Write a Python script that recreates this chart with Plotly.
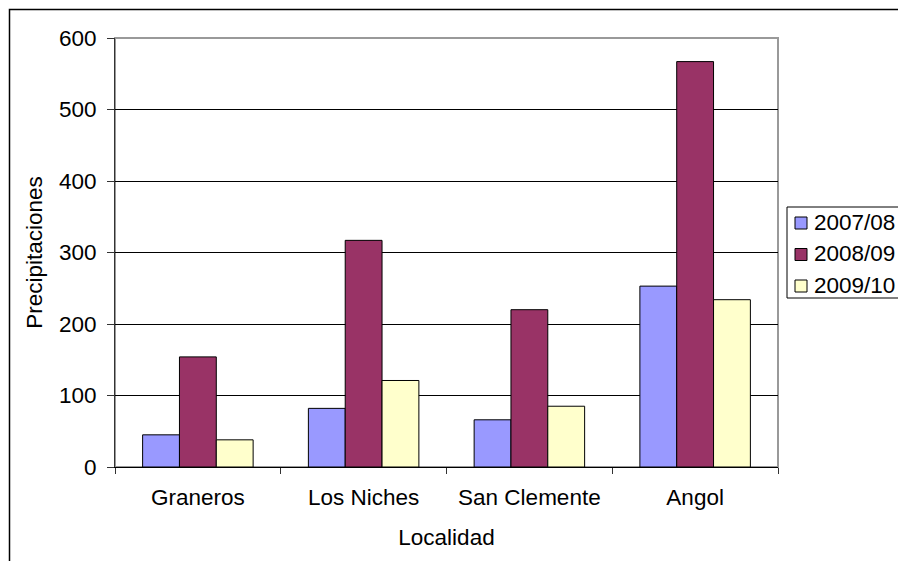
import plotly.graph_objects as go

# Precipitation by locality and season
localidades = ["Graneros", "Los Niches", "San Clemente", "Angol"]
temporadas = ["2007/08", "2008/09", "2009/10"]
p_2007_08 = [45, 82, 66, 253]
p_2008_09 = [154, 317, 220, 567]
p_2009_10 = [38, 121, 85, 234]
colores = ["#9999FF", "#993366", "#FFFFCC"]
y_ticks = [0, 100, 200, 300, 400, 500, 600]

W, H = 898, 561
L, R, T, B = 115, 120, 38, 94
pw, ph = W - L - R, H - T - B

fig = go.Figure()
for name, vals, col in zip(temporadas, [p_2007_08, p_2008_09, p_2009_10], colores):
    fig.add_trace(go.Bar(
        x=localidades, y=vals, name=name, showlegend=False,
        marker=dict(color=col, line=dict(color="#000000", width=1)),
    ))

font = "Liberation Sans, Arial, sans-serif"
fs = 22.5


def px_x(x):
    return (x - L) / pw


def px_y(y):
    return (H - B - y) / ph


shapes = [
    # plot area border
    dict(type="rect", xref="paper", yref="paper", x0=0, x1=1, y0=0, y1=1,
         line=dict(color="#999999", width=2), layer="below"),
    # chart area border
    dict(type="rect", xref="paper", yref="paper",
         x0=px_x(9.5), x1=px_x(905), y0=px_y(570), y1=px_y(9.5),
         line=dict(color="#000000", width=1.5), layer="below"),
    # legend box
    dict(type="rect", xref="paper", yref="paper",
         x0=px_x(787), x1=px_x(905), y0=px_y(298), y1=px_y(207),
         line=dict(color="#000000", width=1), fillcolor="white", layer="above"),
]
annotations = []

# legend entries: swatch + label
row_h = 31.5
for i, (name, col) in enumerate(zip(temporadas, colores)):
    cy = 223 + i * row_h
    shapes.append(dict(
        type="rect", xref="paper", yref="paper",
        x0=px_x(795), x1=px_x(807), y0=px_y(cy + 6), y1=px_y(cy - 6),
        fillcolor=col, line=dict(color="#000000", width=1), layer="above",
    ))
    annotations.append(dict(
        xref="paper", yref="paper", x=px_x(812), y=px_y(cy - 1),
        xanchor="left", yanchor="middle", text=name, showarrow=False,
        font=dict(family=font, size=fs, color="#000000"),
    ))

fig.update_layout(
    width=W, height=H,
    margin=dict(l=L, r=R, t=T, b=B, autoexpand=False),
    paper_bgcolor="white", plot_bgcolor="white",
    font=dict(family=font, size=fs, color="#000000"),
    barmode="group", bargap=1.5 / 4.5, bargroupgap=0,
    showlegend=False,
    xaxis=dict(
        type="category", tickson="boundaries", ticks="outside", ticklen=6,
        tickcolor="#333333", showline=True, linecolor="#000000", linewidth=1,
        showgrid=False, tickfont=dict(size=fs), ticklabelstandoff=10,
        title=dict(text="Localidad", font=dict(size=fs), standoff=20),
    ),
    yaxis=dict(
        range=[0, 600], tickvals=y_ticks, ticks="outside", ticklen=7,
        tickcolor="#333333", showline=True, linecolor="#333333", linewidth=1,
        showgrid=True, gridcolor="#000000", gridwidth=1, zeroline=False,
        tickfont=dict(size=fs), ticklabelstandoff=6,
        title=dict(text="Precipitaciones", font=dict(size=fs), standoff=10),
    ),
    shapes=shapes,
    annotations=annotations,
)

fig.write_html("out.html")
